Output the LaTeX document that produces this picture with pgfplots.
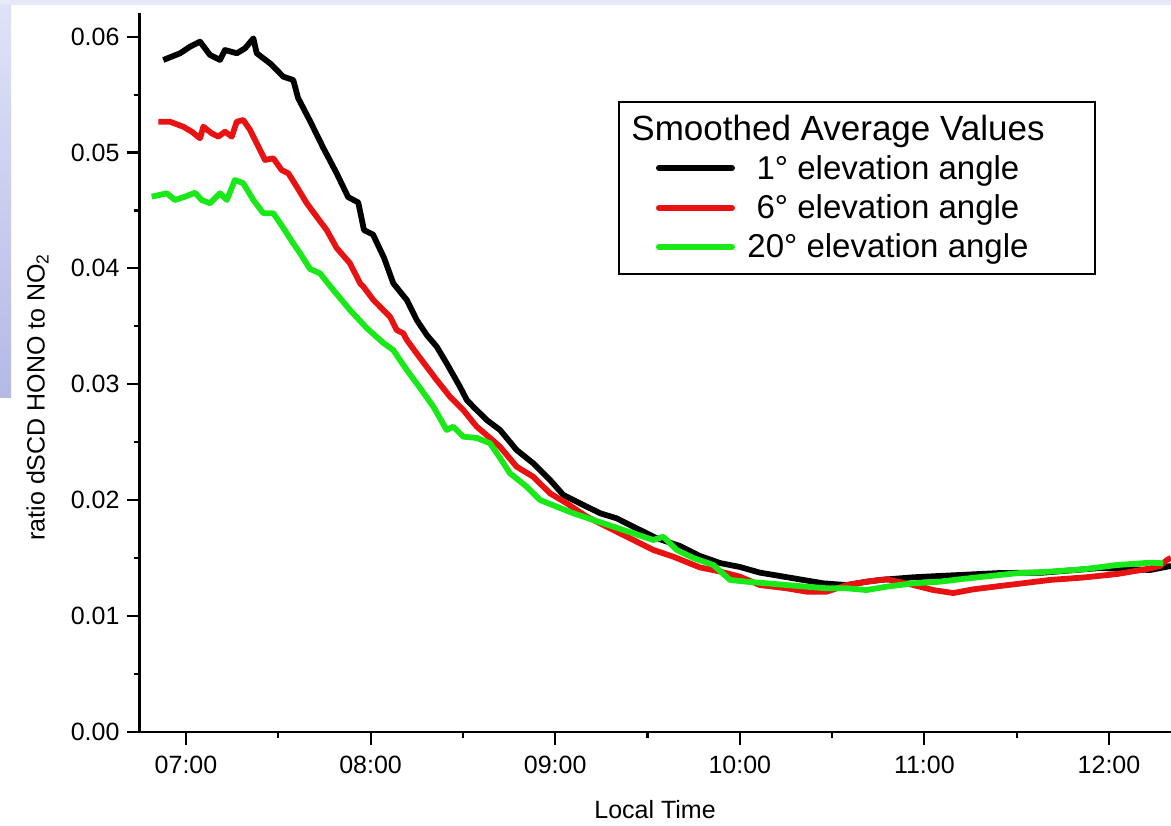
\documentclass[border=0pt]{standalone}
\usepackage{pgfplots}
\pgfplotsset{compat=1.18}
\usepackage{fontspec}
\setmainfont{Liberation Sans}

\definecolor{hred}{RGB}{232,18,18}
\definecolor{hgreen}{RGB}{25,232,25}
\definecolor{slidetop}{RGB}{232,233,248}
\definecolor{slidehi}{RGB}{224,226,246}
\definecolor{slidelo}{RGB}{180,185,230}

% time in decimal hours, ratio dSCD HONO / NO2
\pgfplotstableread{
t v
6.877 0.05799
6.968 0.05857
7.022 0.05914
7.076 0.05957
7.130 0.05842
7.184 0.05799
7.211 0.05885
7.275 0.05857
7.320 0.05900
7.365 0.05986
7.383 0.05857
7.455 0.05770
7.527 0.05655
7.581 0.05626
7.607 0.05471
7.672 0.05272
7.744 0.05039
7.816 0.04821
7.878 0.04616
7.933 0.04569
7.964 0.04331
8.013 0.04292
8.073 0.04090
8.123 0.03871
8.196 0.03727
8.250 0.03554
8.304 0.03425
8.358 0.03324
8.412 0.03180
8.484 0.02978
8.521 0.02864
8.556 0.02806
8.629 0.02691
8.701 0.02605
8.791 0.02432
8.881 0.02317
8.972 0.02173
9.044 0.02044
9.134 0.01972
9.243 0.01886
9.333 0.01842
9.423 0.01770
9.550 0.01670
9.676 0.01603
9.784 0.01517
9.893 0.01456
10.001 0.01422
10.109 0.01373
10.218 0.01344
10.344 0.01310
10.452 0.01281
10.579 0.01266
10.687 0.01295
10.760 0.01310
10.940 0.01333
11.075 0.01344
11.193 0.01353
11.410 0.01370
11.643 0.01373
11.951 0.01413
12.222 0.01396
12.336 0.01431
}\elevone

\pgfplotstableread{
t v
6.850 0.05266
6.913 0.05266
6.985 0.05223
7.031 0.05180
7.076 0.05123
7.094 0.05223
7.139 0.05166
7.175 0.05137
7.211 0.05180
7.248 0.05137
7.275 0.05266
7.310 0.05281
7.347 0.05195
7.383 0.05080
7.428 0.04936
7.473 0.04950
7.518 0.04849
7.554 0.04821
7.600 0.04705
7.654 0.04562
7.708 0.04446
7.762 0.04331
7.816 0.04176
7.888 0.04044
7.943 0.03871
7.961 0.03842
8.015 0.03727
8.033 0.03698
8.105 0.03583
8.141 0.03468
8.177 0.03439
8.196 0.03382
8.268 0.03226
8.358 0.03036
8.430 0.02892
8.502 0.02777
8.575 0.02633
8.647 0.02536
8.701 0.02460
8.791 0.02288
8.881 0.02201
8.972 0.02058
9.062 0.01972
9.171 0.01856
9.315 0.01741
9.423 0.01655
9.531 0.01569
9.640 0.01511
9.784 0.01418
9.893 0.01383
10.001 0.01338
10.109 0.01266
10.254 0.01238
10.362 0.01209
10.471 0.01209
10.579 0.01266
10.687 0.01295
10.796 0.01316
10.940 0.01266
11.048 0.01223
11.157 0.01197
11.265 0.01229
11.410 0.01258
11.500 0.01275
11.680 0.01310
11.861 0.01331
12.043 0.01361
12.222 0.01409
12.276 0.01431
12.314 0.01482
12.336 0.01500
}\elevsix

\pgfplotstableread{
t v
6.814 0.04619
6.896 0.04648
6.940 0.04590
6.995 0.04619
7.049 0.04653
7.085 0.04590
7.130 0.04562
7.184 0.04648
7.221 0.04590
7.265 0.04763
7.310 0.04735
7.365 0.04590
7.419 0.04476
7.473 0.04476
7.527 0.04349
7.581 0.04216
7.618 0.04130
7.672 0.03995
7.726 0.03957
7.798 0.03813
7.888 0.03641
7.979 0.03485
8.069 0.03356
8.123 0.03295
8.159 0.03209
8.196 0.03123
8.268 0.02967
8.340 0.02806
8.412 0.02605
8.448 0.02633
8.502 0.02547
8.575 0.02536
8.647 0.02490
8.701 0.02363
8.755 0.02231
8.846 0.02115
8.918 0.02000
9.008 0.01943
9.098 0.01886
9.206 0.01828
9.315 0.01770
9.423 0.01713
9.531 0.01655
9.586 0.01683
9.658 0.01569
9.748 0.01500
9.857 0.01439
9.947 0.01310
10.037 0.01295
10.146 0.01281
10.254 0.01266
10.362 0.01252
10.471 0.01238
10.579 0.01238
10.687 0.01223
10.796 0.01252
10.940 0.01281
11.084 0.01295
11.193 0.01316
11.319 0.01338
11.500 0.01368
11.680 0.01382
11.861 0.01402
12.042 0.01439
12.222 0.01459
12.294 0.01454
}\eleventy

\begin{document}
\begin{tikzpicture}[x=0.5pt,y=0.5pt]
\clip (0,0) rectangle (1171,825);
\fill[white] (0,0) rectangle (1171,825);
\fill[slidetop] (0,820) rectangle (1171,825);
\shade[top color=slidehi, bottom color=slidelo] (0,427) rectangle (11,820);

\begin{axis}[
  at={(69.75pt,46.65pt)}, anchor=south west,
  scale only axis, width=515.75pt, height=359.2pt,
  xmin=6.748, xmax=12.336,
  ymin=0, ymax=0.06202,
  axis x line=bottom, axis y line=left,
  axis line style={-, line width=1.1pt},
  tick align=outside,
  major tick length=6.5pt, minor tick length=3pt,
  every tick/.style={black, line width=1.1pt},
  xtick={7,8,9,10,11,12},
  xticklabels={07:00,08:00,09:00,10:00,11:00,12:00},
  minor xtick={7.5,8.5,9.5,10.5,11.5},
  ytick={0,0.01,0.02,0.03,0.04,0.05,0.06},
  yticklabels={0.00,0.01,0.02,0.03,0.04,0.05,0.06},
  minor ytick={0.005,0.015,0.025,0.035,0.045,0.055},
  scaled y ticks=false,
  tick label style={font=\fontsize{12.5}{14}\selectfont},
  xticklabel style={yshift=-2pt},
  xlabel={Local Time},
  ylabel={ratio dSCD HONO to NO\textsubscript{2}},
  label style={font=\fontsize{12.5}{14}\selectfont},
  xlabel style={at={(axis description cs:0.4998,-0.109)}, anchor=center},
  ylabel style={at={(axis description cs:-0.0989,0.466)}, anchor=center, rotate=0},
  clip=true,
]
\addplot[black, line width=2.9pt, line join=round] table[x=t,y=v] {\elevone};
\addplot[hred, line width=2.9pt, line join=round] table[x=t,y=v] {\elevsix};
\addplot[hgreen, line width=2.9pt, line join=round] table[x=t,y=v] {\eleventy};
\end{axis}

% legend box
\draw[line width=1pt, fill=white] (619,825-102) rectangle (1095,825-274);
\node[anchor=base, font=\fontsize{17.5}{19}\selectfont, inner sep=0] at (838,825-141) {Smoothed Average Values};
\draw[black, line width=3pt, line cap=round] (659,825-168) -- (732,825-168);
\draw[hred, line width=3pt, line cap=round] (659,825-208) -- (732,825-208);
\draw[hgreen, line width=3pt, line cap=round] (659,825-247) -- (732,825-247);
\node[anchor=base, font=\fontsize{16.5}{19}\selectfont, inner sep=0] at (888,825-180) {1° elevation angle};
\node[anchor=base, font=\fontsize{16.5}{19}\selectfont, inner sep=0] at (888,825-219) {6° elevation angle};
\node[anchor=base, font=\fontsize{16.5}{19}\selectfont, inner sep=0] at (888,825-258) {20° elevation angle};
\end{tikzpicture}
\end{document}
